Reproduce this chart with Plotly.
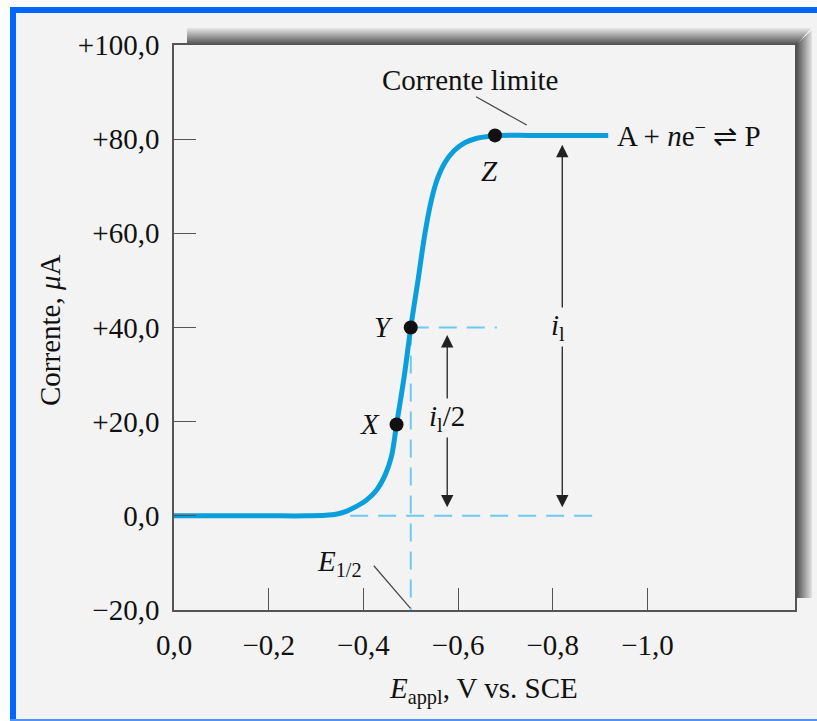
import plotly.graph_objects as go

# ---- data -------------------------------------------------------------
# polarographic wave: applied potential (V vs. SCE) and current (µA)
E_wave = [0.0, -0.10, -0.20, -0.28, -0.32, -0.345, -0.365, -0.385, -0.407, -0.428,
          -0.446, -0.459, -0.470, -0.486, -0.500, -0.516, -0.530, -0.543, -0.556,
          -0.572, -0.592, -0.615, -0.640, -0.665, -0.690, -0.75, -0.82, -0.917]
I_wave = [0.0, 0.0, 0.0, 0.0, 0.1, 0.4, 1.0, 2.0, 3.4, 5.5,
          8.7, 12.5, 19.4, 29.5, 40.0, 50.5, 60.0, 66.8, 71.5,
          75.0, 77.6, 79.3, 80.2, 80.6, 80.8, 80.8, 80.8, 80.8]

# labelled points on the wave
pt_names = ["X", "Y", "Z"]
pt_E = [-0.470, -0.500, -0.678]
pt_I = [19.4, 40.0, 80.8]

# limiting current and half-wave values
i_lim = 80.8
i_half = 40.0
E_half = -0.500

# axis ticks
x_ticks = [0.0, -0.2, -0.4, -0.6, -0.8, -1.0]
x_ticklabels = ["0,0", "\u22120,2", "\u22120,4", "\u22120,6", "\u22120,8", "\u22121,0"]
y_ticks = [-20, 0, 20, 40, 60, 80, 100]
y_ticklabels = ["\u221220,0", "0,0", "+20,0", "+40,0", "+60,0", "+80,0", "+100,0"]

# ---- figure geometry --------------------------------------------------
W, H = 817, 721
ML, MR, MT, MB = 174, 22, 45, 111
PW, PH = W - ML - MR, H - MT - MB

def px(x):
    return (x - ML) / PW

def py(y):
    return (H - MB - y) / PH

FONT = "Liberation Serif"
FS = 29
BLUE = "#0a9fdc"
DASH_BLUE = "#6cc9ef"
INK = "#111111"
BG = "#f3f3f3"

fig = go.Figure()

# guide lines (dashed)
dash_line = dict(color=DASH_BLUE, width=2, dash="18px,10px")
fig.add_trace(go.Scatter(x=[-0.372, -0.895], y=[0, 0], mode="lines",
                         line=dash_line, hoverinfo="skip"))
fig.add_trace(go.Scatter(x=[E_half, -0.682], y=[i_half, i_half], mode="lines",
                         line=dash_line, hoverinfo="skip"))
fig.add_trace(go.Scatter(x=[E_half, E_half], y=[i_half, -20], mode="lines",
                         line=dash_line, hoverinfo="skip"))

# the wave
fig.add_trace(go.Scatter(x=E_wave, y=I_wave, mode="lines",
                         line=dict(color=BLUE, width=5, shape="spline", smoothing=1.0),
                         hoverinfo="skip"))

# marked points
fig.add_trace(go.Scatter(x=pt_E, y=pt_I, mode="markers",
                         marker=dict(color="#111111", size=14),
                         hoverinfo="skip"))

annotations = []

# double-headed arrows for i_l and i_l/2
for xa, top in [(-0.577, i_half - 1.6), (-0.820, i_lim - 2.0)]:
    annotations.append(dict(x=xa, y=top, ax=xa, ay=1.5, xref="x", yref="y",
                            axref="x", ayref="y", text="", showarrow=True,
                            arrowhead=2, arrowside="end+start", arrowsize=1.9,
                            arrowwidth=1.3, arrowcolor="#222222"))

txt_font = dict(family=FONT, size=FS, color=INK)
annotations += [
    dict(x=-0.577, y=20.8, xref="x", yref="y", showarrow=False,
         text="<i>i</i><sub>l</sub>/2", font=txt_font, bgcolor=BG),
    dict(x=-0.812, y=40.1, xref="x", yref="y", showarrow=False,
         text="<i>i</i><sub>l</sub>", font=txt_font, bgcolor=BG),
    dict(x=-0.414, y=19.4, xref="x", yref="y", showarrow=False,
         text="<i>X</i>", font=txt_font),
    dict(x=-0.442, y=40.2, xref="x", yref="y", showarrow=False,
         text="<i>Y</i>", font=txt_font),
    dict(x=-0.667, y=73.2, xref="x", yref="y", showarrow=False,
         text="<i>Z</i>", font=txt_font),
    dict(x=-0.625, y=92.6, xref="x", yref="y", showarrow=False,
         text="Corrente limite", font=txt_font),
    dict(x=-0.931, y=81.0, xref="x", yref="y", showarrow=False, xanchor="left",
         text="A + <i>n</i>e<sup>\u2212</sup> \u21cc P", font=txt_font),
    dict(x=-0.350, y=-10.0, xref="x", yref="y", showarrow=False,
         text="<i>E</i><sub>1/2</sub>", font=txt_font),
    # axis titles
    dict(x=px(50), y=py(330), xref="paper", yref="paper", showarrow=False,
         xanchor="center", yanchor="middle",
         textangle=-90, text="Corrente, <i>\u03bc</i>A", font=txt_font),
    dict(x=px(483), y=py(690), xref="paper", yref="paper", showarrow=False,
         xanchor="center", yanchor="middle",
         text="<i>E</i><sub>appl</sub>, V vs. SCE", font=txt_font),
]

shapes = []
# leader lines
shapes.append(dict(type="line", xref="x", yref="y", x0=-0.638, y0=89.0,
                   x1=-0.745, y1=83.0, line=dict(color="#444444", width=1.2)))
shapes.append(dict(type="line", xref="x", yref="y", x0=-0.422, y0=-10.6,
                   x1=-0.499, y1=-19.6, line=dict(color="#444444", width=1.2)))

# drop shadow above and to the right of the frame (stepped gradient)
n = 17
for k in range(n):
    g = int(228 - (228 - 80) * k / (n - 1))
    c = f"rgb({g},{g},{g})"
    y0 = 28 + k
    shapes.append(dict(type="rect", xref="paper", yref="paper", layer="above",
                       x0=px(187), x1=px(811 - k * 0.9),
                       y0=py(y0 + 1), y1=py(y0), line=dict(width=0), fillcolor=c))
m = 16
for k in range(m):
    g = int(80 + (222 - 80) * k / (m - 1))
    c = f"rgb({g},{g},{g})"
    x0 = 796 + k
    shapes.append(dict(type="rect", xref="paper", yref="paper", layer="above",
                       x0=px(x0), x1=px(x0 + 1), y0=py(598), y1=py(44 - k * 0.9),
                       line=dict(width=0), fillcolor=c))

# outer page frame: white edge with blue borders
shapes += [
    dict(type="rect", xref="paper", yref="paper", x0=px(0), x1=px(W), y0=py(7), y1=py(0),
         line=dict(width=0), fillcolor="white", layer="above"),
    dict(type="rect", xref="paper", yref="paper", x0=px(0), x1=px(10), y0=py(H), y1=py(0),
         line=dict(width=0), fillcolor="white", layer="above"),
    dict(type="rect", xref="paper", yref="paper", x0=px(10), x1=px(W), y0=py(13), y1=py(7),
         line=dict(width=0), fillcolor="#0066ff", layer="above"),
    dict(type="rect", xref="paper", yref="paper", x0=px(10), x1=px(16), y0=py(H), y1=py(7),
         line=dict(width=0), fillcolor="#0066ff", layer="above"),
    dict(type="rect", xref="paper", yref="paper", x0=px(10), x1=px(W), y0=py(H), y1=py(719),
         line=dict(width=0), fillcolor="#4d94f5", layer="above"),
]

axis_common = dict(showline=True, linecolor="#555555", linewidth=1.6, mirror=True,
                   ticks="inside", ticklen=22, tickwidth=1.4, tickcolor="#555555",
                   showgrid=False, zeroline=False, automargin=False,
                   tickfont=dict(family=FONT, size=FS, color=INK))

fig.update_layout(
    width=W, height=H, template="none",
    margin=dict(l=ML, r=MR, t=MT, b=MB, pad=0),
    paper_bgcolor=BG, plot_bgcolor=BG, showlegend=False,
    xaxis=dict(range=[0.0, -(795 - ML) / 473.5], tickmode="array",
               tickvals=x_ticks, ticktext=x_ticklabels, ticklabelstandoff=8,
               **axis_common),
    yaxis=dict(range=[-20, 100], tickmode="array", tickvals=y_ticks,
               ticktext=y_ticklabels, ticklabelstandoff=7, **axis_common),
    annotations=annotations, shapes=shapes,
)

fig.write_html("out.html")
